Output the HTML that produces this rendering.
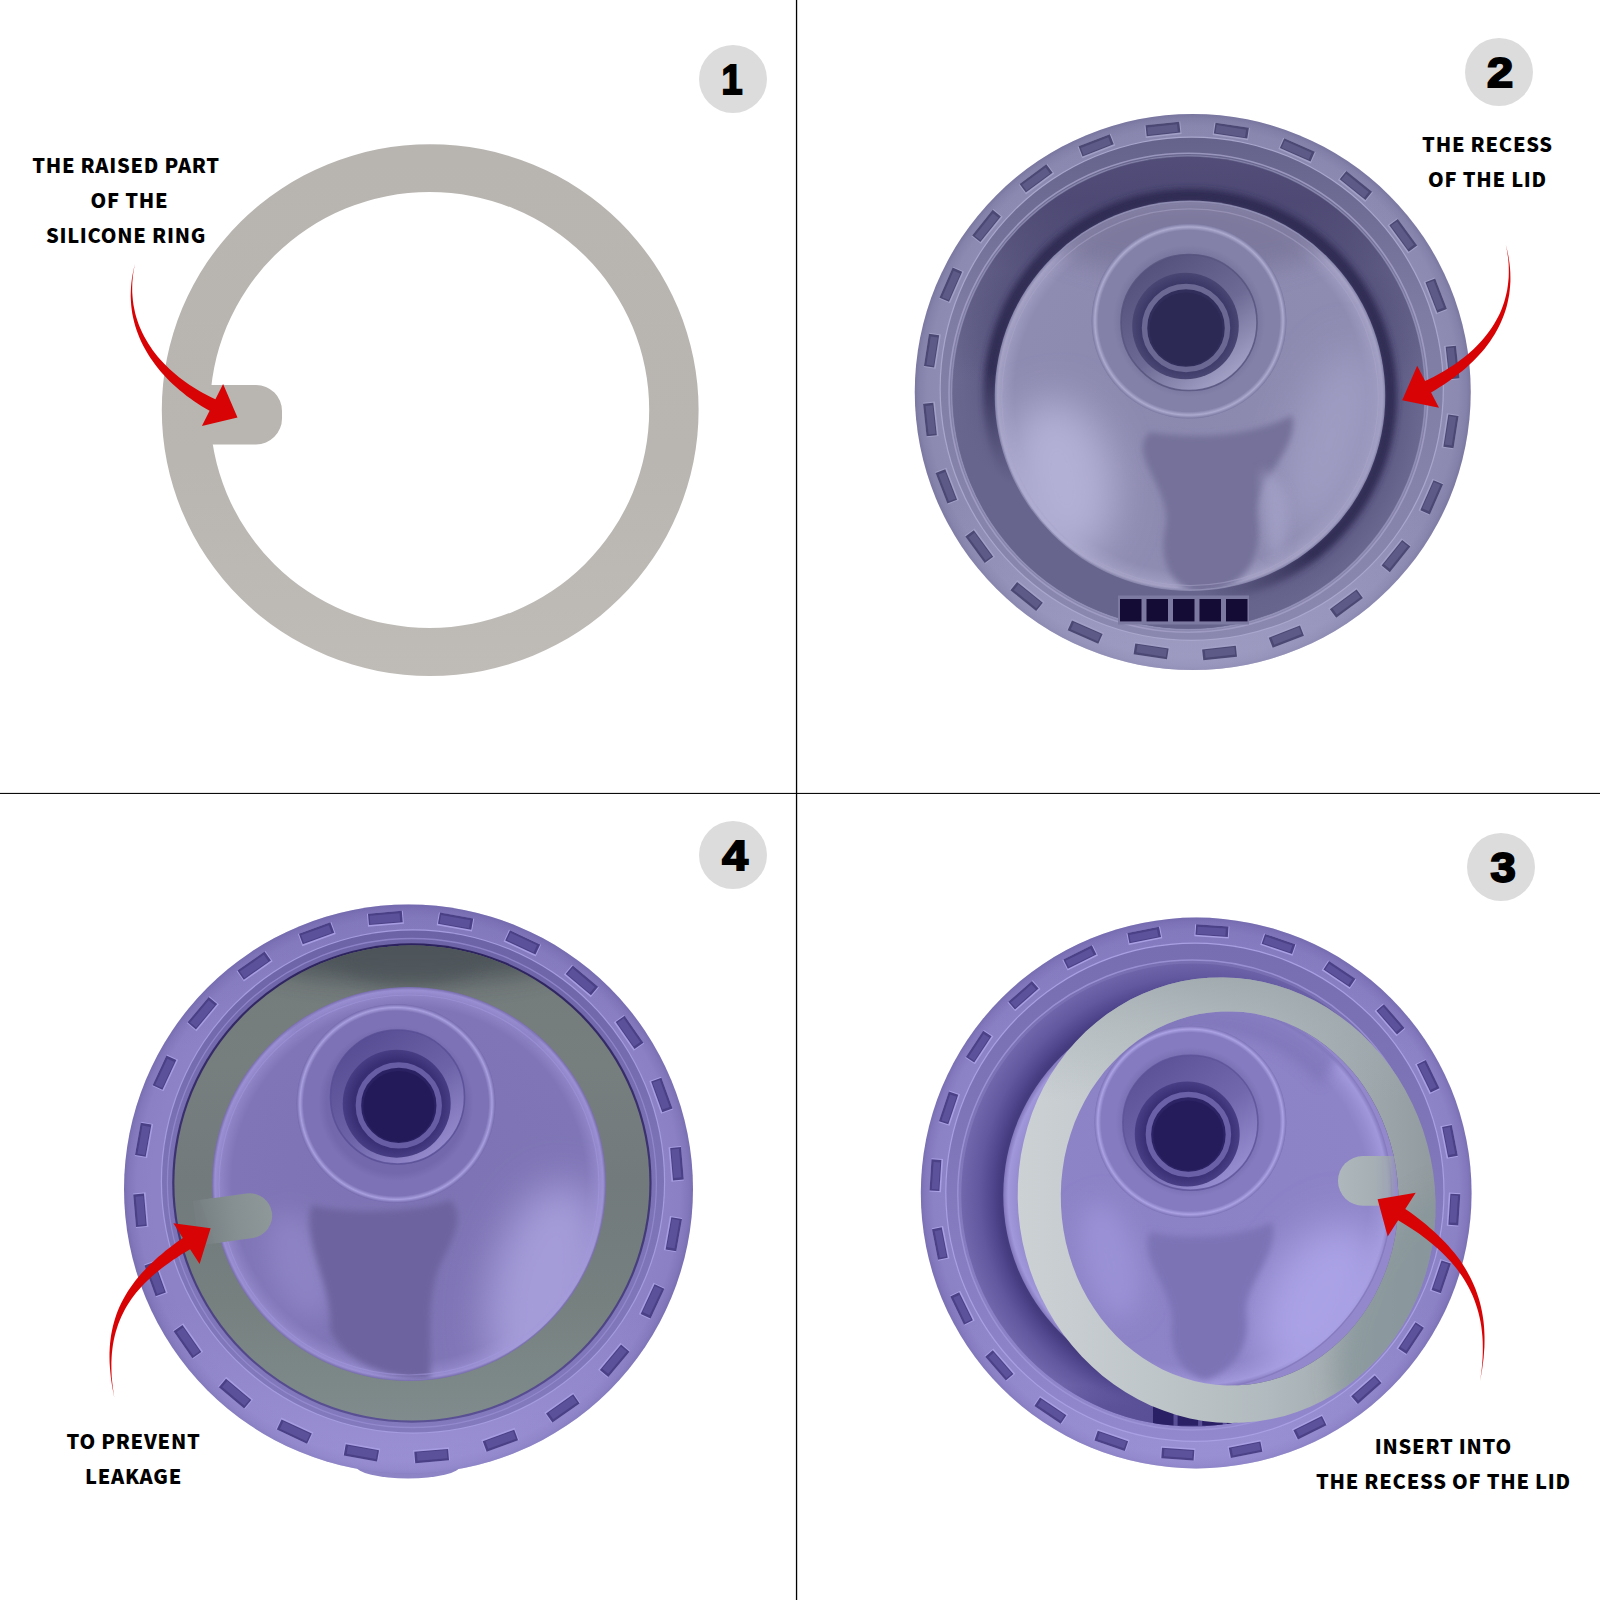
<!DOCTYPE html>
<html lang="en"><head><meta charset="utf-8"><title>Silicone ring installation</title>
<style>html,body{margin:0;padding:0;background:#fff}svg{display:block}</style></head>
<body>
<svg width="1600" height="1600" viewBox="0 0 1600 1600">
<defs>
<linearGradient id="ringg" x1="0" y1="0" x2="0" y2="1"><stop offset="0" stop-color="#b8b4b0"/><stop offset="0.6" stop-color="#b9b5b0"/><stop offset="1" stop-color="#bfbbb7"/></linearGradient>
<filter id="b3" x="-20%" y="-20%" width="140%" height="140%"><feGaussianBlur stdDeviation="3"/></filter>
<filter id="b6" x="-30%" y="-30%" width="160%" height="160%"><feGaussianBlur stdDeviation="6"/></filter>
<filter id="b12" x="-40%" y="-40%" width="180%" height="180%"><feGaussianBlur stdDeviation="12"/></filter>
<filter id="b20" x="-50%" y="-50%" width="200%" height="200%"><feGaussianBlur stdDeviation="20"/></filter>
<radialGradient id="rg1" gradientUnits="userSpaceOnUse" cx="1192.75" cy="392" r="278" fx="1192.75" fy="392"><stop offset="0" stop-color="#8f8cb4"/><stop offset="0.9" stop-color="#8f8cb4"/><stop offset="0.955" stop-color="#8d8ab2"/><stop offset="0.985" stop-color="#8481aa"/><stop offset="1" stop-color="#7a77a1"/></radialGradient>
<linearGradient id="lg2" gradientUnits="userSpaceOnUse" x1="0" y1="114" x2="0" y2="670"><stop offset="0" stop-color="#6f6c98" stop-opacity="0.15"/><stop offset="0.2" stop-color="#6f6c98" stop-opacity="0"/><stop offset="0.7" stop-color="#b4b1d6" stop-opacity="0"/><stop offset="1" stop-color="#b4b1d6" stop-opacity="0.45"/></linearGradient>
<linearGradient id="lg3" gradientUnits="userSpaceOnUse" x1="0" y1="137" x2="0" y2="640"><stop offset="0" stop-color="#65628b"/><stop offset="0.35" stop-color="#7f7ca4"/><stop offset="0.7" stop-color="#8683ab"/><stop offset="1" stop-color="#8b88af"/></linearGradient>
<radialGradient id="rg4" gradientUnits="userSpaceOnUse" cx="1190" cy="395.75" r="240" fx="1190" fy="395.75"><stop offset="0" stop-color="#4f4c76"/><stop offset="0.815" stop-color="#4f4c76"/><stop offset="0.87" stop-color="#5f5c86"/><stop offset="1" stop-color="#6e6b93"/></radialGradient>
<clipPath id="cp5"><ellipse cx="1188.5" cy="392.75" rx="236" ry="236"/></clipPath>
<linearGradient id="lg6" gradientUnits="userSpaceOnUse" x1="0" y1="157" x2="0" y2="380"><stop offset="0" stop-color="#504c77" stop-opacity="0.95"/><stop offset="0.2" stop-color="#4b4772" stop-opacity="0.9"/><stop offset="0.5" stop-color="#433f69" stop-opacity="0.35"/><stop offset="1" stop-color="#2f2b52" stop-opacity="0"/></linearGradient>
<linearGradient id="lg7" gradientUnits="userSpaceOnUse" x1="1250" y1="380" x2="1100" y2="640"><stop offset="0" stop-color="#67648d" stop-opacity="0"/><stop offset="0.4" stop-color="#67648d" stop-opacity="0"/><stop offset="0.7" stop-color="#67648d" stop-opacity="1"/><stop offset="1" stop-color="#67648d" stop-opacity="1"/></linearGradient>
<radialGradient id="rg8" gradientUnits="userSpaceOnUse" cx="1190" cy="395.75" r="195.3" fx="1190" fy="395.75"><stop offset="0" stop-color="#8c89af"/><stop offset="0.9" stop-color="#8f8cb2"/><stop offset="0.955" stop-color="#9b98bd"/><stop offset="0.985" stop-color="#a5a2c6"/><stop offset="1" stop-color="#8683a9"/></radialGradient>
<clipPath id="cp9"><ellipse cx="1190" cy="395.75" rx="193.8" ry="193.8"/></clipPath>
<radialGradient id="rg10" gradientUnits="userSpaceOnUse" cx="1189" cy="321" r="97.5" fx="1189" fy="321"><stop offset="0" stop-color="#7a77a0"/><stop offset="0.7" stop-color="#7a77a0"/><stop offset="0.78" stop-color="#8481a9"/><stop offset="0.93" stop-color="#8481a9"/><stop offset="0.965" stop-color="#acaace"/><stop offset="1" stop-color="#7a77a0"/></radialGradient>
<linearGradient id="lg11" gradientUnits="userSpaceOnUse" x1="1148.2" y1="268.1" x2="1229.8" y2="376.9"><stop offset="0" stop-color="#55527d"/><stop offset="0.55" stop-color="#6d6a95"/><stop offset="1" stop-color="#a3a0c6"/></linearGradient>
<radialGradient id="rg12" gradientUnits="userSpaceOnUse" cx="1185.5" cy="326" r="53.3" fx="1185.5" fy="326"><stop offset="0" stop-color="#3b3766"/><stop offset="0.8" stop-color="#3b3766"/><stop offset="1" stop-color="#4a4674"/></radialGradient>
<radialGradient id="rg13" gradientUnits="userSpaceOnUse" cx="408.5" cy="1189" r="284.5" fx="408.5" fy="1189"><stop offset="0" stop-color="#8c82c5"/><stop offset="0.9" stop-color="#8c82c5"/><stop offset="0.955" stop-color="#8a80c3"/><stop offset="0.985" stop-color="#8277bb"/><stop offset="1" stop-color="#786eb2"/></radialGradient>
<linearGradient id="lg14" gradientUnits="userSpaceOnUse" x1="0" y1="905" x2="0" y2="1474"><stop offset="0" stop-color="#6a60a6" stop-opacity="0.3"/><stop offset="0.25" stop-color="#6a60a6" stop-opacity="0"/><stop offset="0.7" stop-color="#b0a7ea" stop-opacity="0"/><stop offset="1" stop-color="#b0a7ea" stop-opacity="0.4"/></linearGradient>
<linearGradient id="lg15" gradientUnits="userSpaceOnUse" x1="0" y1="930" x2="0" y2="1434"><stop offset="0" stop-color="#6c62a6"/><stop offset="0.4" stop-color="#7a70b4"/><stop offset="1" stop-color="#8379bd"/></linearGradient>
<linearGradient id="lg16" gradientUnits="userSpaceOnUse" x1="0" y1="944" x2="0" y2="1424"><stop offset="0" stop-color="#2c235e"/><stop offset="0.5" stop-color="#3d3472"/><stop offset="1" stop-color="#5a5094"/></linearGradient>
<linearGradient id="lg17" gradientUnits="userSpaceOnUse" x1="0" y1="946" x2="0" y2="1420"><stop offset="0" stop-color="#747b7b"/><stop offset="0.25" stop-color="#777e7e"/><stop offset="0.5" stop-color="#727a7c"/><stop offset="0.75" stop-color="#76807f"/><stop offset="1" stop-color="#7f8b8c"/></linearGradient>
<clipPath id="cp18"><ellipse cx="411.9" cy="1183" rx="237.5" ry="237.5"/></clipPath>
<linearGradient id="lg19" gradientUnits="userSpaceOnUse" x1="200" y1="0" x2="272" y2="0"><stop offset="0" stop-color="#767e81"/><stop offset="0.5" stop-color="#869092"/><stop offset="1" stop-color="#8e9899"/></linearGradient>
<radialGradient id="rg20" gradientUnits="userSpaceOnUse" cx="409" cy="1184" r="197" fx="409" fy="1184"><stop offset="0" stop-color="#7d73b4"/><stop offset="0.9" stop-color="#8076b7"/><stop offset="0.955" stop-color="#8d83c5"/><stop offset="0.985" stop-color="#9a90d3"/><stop offset="1" stop-color="#766cac"/></radialGradient>
<clipPath id="cp21"><ellipse cx="409" cy="1184" rx="195.5" ry="195.5"/></clipPath>
<linearGradient id="lg22" gradientUnits="userSpaceOnUse" x1="200" y1="0" x2="272" y2="0"><stop offset="0" stop-color="#778083"/><stop offset="0.5" stop-color="#869092"/><stop offset="1" stop-color="#8e9899"/></linearGradient>
<radialGradient id="rg23" gradientUnits="userSpaceOnUse" cx="396" cy="1103.5" r="99.5" fx="396" fy="1103.5"><stop offset="0" stop-color="#7268ab"/><stop offset="0.7" stop-color="#7268ab"/><stop offset="0.78" stop-color="#7c72b5"/><stop offset="0.93" stop-color="#7c72b5"/><stop offset="0.965" stop-color="#a89fdf"/><stop offset="1" stop-color="#7268ab"/></radialGradient>
<linearGradient id="lg24" gradientUnits="userSpaceOnUse" x1="357.3" y1="1043.4" x2="437.7" y2="1150.6"><stop offset="0" stop-color="#584e95"/><stop offset="0.55" stop-color="#6d63a8"/><stop offset="1" stop-color="#9389cb"/></linearGradient>
<radialGradient id="rg25" gradientUnits="userSpaceOnUse" cx="396.7" cy="1103.7" r="54" fx="396.7" fy="1103.7"><stop offset="0" stop-color="#382e74"/><stop offset="0.8" stop-color="#382e74"/><stop offset="1" stop-color="#473d84"/></radialGradient>
<radialGradient id="rg26" gradientUnits="userSpaceOnUse" cx="1196.2" cy="1193" r="275.4" fx="1196.2" fy="1193"><stop offset="0" stop-color="#8d83c7"/><stop offset="0.9" stop-color="#8d83c7"/><stop offset="0.955" stop-color="#8b81c5"/><stop offset="0.985" stop-color="#8378bd"/><stop offset="1" stop-color="#796fb3"/></radialGradient>
<linearGradient id="lg27" gradientUnits="userSpaceOnUse" x1="0" y1="917" x2="0" y2="1470"><stop offset="0" stop-color="#6a60a6" stop-opacity="0.28"/><stop offset="0.25" stop-color="#6a60a6" stop-opacity="0"/><stop offset="0.7" stop-color="#b0a7ea" stop-opacity="0"/><stop offset="1" stop-color="#b0a7ea" stop-opacity="0.4"/></linearGradient>
<linearGradient id="lg28" gradientUnits="userSpaceOnUse" x1="0" y1="943" x2="0" y2="1441"><stop offset="0" stop-color="#776db1"/><stop offset="0.4" stop-color="#7f75b9"/><stop offset="1" stop-color="#9288ce"/></linearGradient>
<radialGradient id="rg29" gradientUnits="userSpaceOnUse" cx="1197.75" cy="1195" r="237.5" fx="1197.75" fy="1195"><stop offset="0" stop-color="#443a7e"/><stop offset="0.83" stop-color="#443a7e"/><stop offset="0.87" stop-color="#524890"/><stop offset="0.92" stop-color="#62589f"/><stop offset="1" stop-color="#7268ae"/></radialGradient>
<clipPath id="cp30"><ellipse cx="1192.75" cy="1195" rx="231.5" ry="231.5"/></clipPath>
<linearGradient id="lg31" gradientUnits="userSpaceOnUse" x1="0" y1="1385" x2="0" y2="1428"><stop offset="0" stop-color="#584e96" stop-opacity="0"/><stop offset="0.5" stop-color="#584e96" stop-opacity="0.8"/><stop offset="1" stop-color="#584e96" stop-opacity="1"/></linearGradient>
<radialGradient id="rg32" gradientUnits="userSpaceOnUse" cx="1197.75" cy="1195" r="194.5" fx="1197.75" fy="1195"><stop offset="0" stop-color="#8b81c5"/><stop offset="0.88" stop-color="#8d83c7"/><stop offset="0.93" stop-color="#968cd0"/><stop offset="0.975" stop-color="#a198db"/><stop offset="1" stop-color="#8177ba"/></radialGradient>
<clipPath id="cp33"><ellipse cx="1197.75" cy="1195" rx="193" ry="193"/></clipPath>
<radialGradient id="rg34" gradientUnits="userSpaceOnUse" cx="1190.4" cy="1121.8" r="96" fx="1190.4" fy="1121.8"><stop offset="0" stop-color="#7a70b4"/><stop offset="0.7" stop-color="#7a70b4"/><stop offset="0.78" stop-color="#857bc0"/><stop offset="0.93" stop-color="#857bc0"/><stop offset="0.965" stop-color="#aba2e4"/><stop offset="1" stop-color="#7a70b4"/></radialGradient>
<linearGradient id="lg35" gradientUnits="userSpaceOnUse" x1="1149.9" y1="1068.7" x2="1230.9" y2="1176.7"><stop offset="0" stop-color="#5d5399"/><stop offset="0.55" stop-color="#7268ad"/><stop offset="1" stop-color="#968cd0"/></linearGradient>
<radialGradient id="rg36" gradientUnits="userSpaceOnUse" cx="1187.2" cy="1134" r="52.5" fx="1187.2" fy="1134"><stop offset="0" stop-color="#392f75"/><stop offset="0.8" stop-color="#392f75"/><stop offset="1" stop-color="#483e85"/></radialGradient>
<linearGradient id="lg37" gradientUnits="userSpaceOnUse" x1="1018" y1="0" x2="1433" y2="0"><stop offset="0" stop-color="#ccd1d4"/><stop offset="0.3" stop-color="#c0c7ca"/><stop offset="0.6" stop-color="#b1babe"/><stop offset="0.85" stop-color="#9ea7ab"/><stop offset="1" stop-color="#929b9f"/></linearGradient>
<clipPath id="cp38"><path clip-rule="evenodd" d="M1430.7,1158.4 L1433.2,1172.8 L1434.8,1187.3 L1435.5,1201.9 L1435.3,1216.5 L1434.2,1231.0 L1432.3,1245.4 L1429.4,1259.5 L1425.7,1273.4 L1421.2,1287.1 L1415.8,1300.3 L1409.6,1313.1 L1402.6,1325.4 L1394.8,1337.2 L1386.4,1348.4 L1377.2,1359.0 L1367.4,1368.8 L1357.0,1378.0 L1346.1,1386.4 L1334.6,1394.0 L1322.7,1400.8 L1310.4,1406.7 L1297.7,1411.7 L1284.7,1415.9 L1271.4,1419.1 L1258.0,1421.3 L1244.4,1422.6 L1230.7,1423.0 L1217.1,1422.4 L1203.4,1420.9 L1189.9,1418.4 L1176.5,1415.0 L1163.4,1410.6 L1150.5,1405.4 L1137.9,1399.3 L1125.7,1392.3 L1114.0,1384.5 L1102.7,1375.9 L1092.0,1366.6 L1081.8,1356.5 L1072.3,1345.8 L1063.4,1334.5 L1055.2,1322.6 L1047.8,1310.1 L1041.1,1297.2 L1035.2,1283.9 L1030.1,1270.2 L1025.9,1256.2 L1022.5,1242.0 L1020.0,1227.6 L1018.4,1213.1 L1017.7,1198.5 L1017.9,1183.9 L1019.0,1169.4 L1020.9,1155.0 L1023.8,1140.9 L1027.5,1127.0 L1032.0,1113.3 L1037.4,1100.1 L1043.6,1087.3 L1050.6,1075.0 L1058.4,1063.2 L1066.8,1052.0 L1076.0,1041.4 L1085.8,1031.6 L1096.2,1022.4 L1107.1,1014.0 L1118.6,1006.4 L1130.5,999.6 L1142.8,993.7 L1155.5,988.7 L1168.5,984.5 L1181.8,981.3 L1195.2,979.1 L1208.8,977.8 L1222.5,977.4 L1236.1,978.0 L1249.8,979.5 L1263.3,982.0 L1276.7,985.4 L1289.8,989.8 L1302.7,995.0 L1315.3,1001.1 L1327.5,1008.1 L1339.2,1015.9 L1350.5,1024.5 L1361.2,1033.8 L1371.4,1043.9 L1380.9,1054.6 L1389.8,1065.9 L1398.0,1077.8 L1405.4,1090.3 L1412.1,1103.2 L1418.0,1116.5 L1423.1,1130.2 L1427.3,1144.2Z M1398.2,1190.8 L1398.4,1203.1 L1397.9,1215.3 L1396.6,1227.4 L1394.7,1239.5 L1392.0,1251.3 L1388.6,1262.9 L1384.6,1274.3 L1379.8,1285.3 L1374.5,1295.9 L1368.5,1306.2 L1361.9,1315.9 L1354.8,1325.2 L1347.1,1333.9 L1338.9,1342.1 L1330.3,1349.6 L1321.2,1356.5 L1311.7,1362.7 L1301.9,1368.2 L1291.7,1373.0 L1281.3,1377.0 L1270.7,1380.2 L1259.9,1382.7 L1249.0,1384.4 L1238.0,1385.3 L1226.9,1385.4 L1215.9,1384.7 L1204.9,1383.2 L1194.1,1380.9 L1183.3,1377.8 L1172.8,1374.0 L1162.5,1369.4 L1152.6,1364.1 L1142.9,1358.0 L1133.6,1351.3 L1124.7,1343.9 L1116.3,1335.9 L1108.3,1327.3 L1100.9,1318.2 L1094.1,1308.5 L1087.8,1298.4 L1082.1,1287.9 L1077.0,1276.9 L1072.6,1265.6 L1068.9,1254.1 L1065.8,1242.3 L1063.5,1230.3 L1061.9,1218.2 L1061.0,1206.0 L1060.8,1193.7 L1061.3,1181.5 L1062.6,1169.4 L1064.5,1157.3 L1067.2,1145.5 L1070.6,1133.9 L1074.6,1122.5 L1079.4,1111.5 L1084.7,1100.9 L1090.7,1090.6 L1097.3,1080.9 L1104.4,1071.6 L1112.1,1062.9 L1120.3,1054.7 L1128.9,1047.2 L1138.0,1040.3 L1147.5,1034.1 L1157.3,1028.6 L1167.5,1023.8 L1177.9,1019.8 L1188.5,1016.6 L1199.3,1014.1 L1210.2,1012.4 L1221.2,1011.5 L1232.3,1011.4 L1243.3,1012.1 L1254.3,1013.6 L1265.1,1015.9 L1275.9,1019.0 L1286.4,1022.8 L1296.7,1027.4 L1306.6,1032.7 L1316.3,1038.8 L1325.6,1045.5 L1334.5,1052.9 L1342.9,1060.9 L1350.9,1069.5 L1358.3,1078.6 L1365.1,1088.3 L1371.4,1098.4 L1377.1,1108.9 L1382.2,1119.9 L1386.6,1131.2 L1390.3,1142.7 L1393.4,1154.5 L1395.7,1166.5 L1397.3,1178.6Z"/></clipPath>
<linearGradient id="lg39" gradientUnits="userSpaceOnUse" x1="0" y1="976" x2="0" y2="1100"><stop offset="0" stop-color="#98a2a7" stop-opacity="0.7"/><stop offset="0.4" stop-color="#a0aaaf" stop-opacity="0.4"/><stop offset="1" stop-color="#a3adb2" stop-opacity="0"/></linearGradient>
<linearGradient id="lg40" gradientUnits="userSpaceOnUse" x1="1338" y1="0" x2="1398" y2="0"><stop offset="0" stop-color="#aeb8bc" stop-opacity="1"/><stop offset="0.6" stop-color="#a6b0b4" stop-opacity="1"/><stop offset="0.85" stop-color="#9fa8ac" stop-opacity="0.8"/><stop offset="1" stop-color="#9ba4a8" stop-opacity="0"/></linearGradient>
</defs>
<rect width="1600" height="1600" fill="#ffffff"/>
<g id="p1">
<path fill="url(#ringg)" fill-rule="evenodd" d="M161.8,410.1 a268.4,265.9 0 1,0 536.8,0 a268.4,265.9 0 1,0 -536.8,0Z M210,410 a219.6,218 0 1,0 439.2,0 a219.6,218 0 1,0 -439.2,0Z"/>
<path fill="#b9b5b0" d="M200,385 H256 a26,26 0 0 1 26,26 v7.4 a26,26 0 0 1 -26,26 H200Z"/>
<path d="M135.0,264.0 L133.8,268.8 L132.8,273.5 L132.0,278.1 L131.4,282.7 L131.0,287.3 L130.8,291.9 L130.7,296.3 L130.9,300.8 L131.2,305.2 L131.7,309.5 L132.3,313.8 L133.2,318.1 L134.2,322.3 L135.4,326.4 L136.7,330.5 L138.2,334.5 L139.8,338.5 L141.6,342.4 L143.5,346.3 L145.6,350.1 L147.8,353.8 L150.1,357.5 L152.6,361.1 L155.1,364.6 L157.8,368.1 L160.6,371.5 L163.6,374.8 L166.6,378.1 L169.7,381.2 L172.9,384.3 L176.3,387.3 L179.7,390.3 L183.2,393.1 L186.7,395.9 L190.4,398.6 L194.1,401.2 L197.9,403.7 L201.7,406.2 L205.6,408.5 L209.6,410.8 L201.9,425.9 L237.5,417.6 L223.1,384.1 L215.4,399.2 L211.6,397.4 L207.7,395.5 L203.9,393.5 L200.2,391.5 L196.5,389.3 L192.9,387.1 L189.3,384.7 L185.8,382.3 L182.4,379.8 L179.0,377.3 L175.8,374.6 L172.6,371.8 L169.5,369.0 L166.5,366.1 L163.5,363.1 L160.7,360.1 L158.0,356.9 L155.4,353.7 L152.9,350.4 L150.6,347.0 L148.3,343.6 L146.2,340.0 L144.2,336.4 L142.3,332.7 L140.6,329.0 L139.0,325.2 L137.6,321.2 L136.3,317.3 L135.2,313.2 L134.3,309.1 L133.5,304.9 L132.9,300.6 L132.5,296.3 L132.2,291.9 L132.2,287.4 L132.3,282.8 L132.7,278.2 L133.2,273.5 L134.0,268.8 L135.0,264.0Z" fill="#d80304"/>
<text x="126.0" y="173.0" text-anchor="middle" font-family="'Noto Sans CJK SC','Liberation Sans',sans-serif" font-weight="900" font-size="20" letter-spacing="0.75" fill="#000">THE RAISED PART</text>
<text x="129.5" y="208.0" text-anchor="middle" font-family="'Noto Sans CJK SC','Liberation Sans',sans-serif" font-weight="900" font-size="20" letter-spacing="0.75" fill="#000">OF THE</text>
<text x="126.0" y="243.0" text-anchor="middle" font-family="'Noto Sans CJK SC','Liberation Sans',sans-serif" font-weight="900" font-size="20" letter-spacing="0.75" fill="#000">SILICONE RING</text>
<circle cx="733" cy="79" r="34" fill="#dcdcdc"/><text transform="translate(732,94.2) scale(0.9,1)" text-anchor="middle" font-family="'Liberation Sans',sans-serif" font-weight="700" font-size="42" stroke="#000" stroke-width="2" fill="#000">1</text>
</g>
<rect x="795.9" y="0" width="1.3" height="1600" fill="#000"/>
<rect x="0" y="792.9" width="1600" height="1.05" fill="#000"/>
<g id="p2">
<circle cx="1192.75" cy="392" r="278" fill="url(#rg1)" />
<circle cx="1192.75" cy="392" r="278" fill="url(#lg2)" />
<g transform="translate(1162.9,129.0) rotate(-6.2)"><rect x="-17.9" y="-5.5" width="35.9" height="12.5" fill="#a3a0c7"/><rect x="-16.9" y="-5.5" width="33.9" height="10.9" fill="#4b4874"/><rect x="-15.4" y="-3.3" width="29.9" height="7.7" fill="#5d5a87"/></g>
<g transform="translate(1231.4,130.6) rotate(8.8)"><rect x="-17.9" y="-5.4" width="35.8" height="12.5" fill="#a3a0c7"/><rect x="-16.9" y="-5.4" width="33.8" height="10.9" fill="#4b4874"/><rect x="-15.4" y="-3.2" width="29.8" height="7.7" fill="#5d5a87"/></g>
<g transform="translate(1297.3,149.9) rotate(23.9)"><rect x="-17.7" y="-5.4" width="35.5" height="12.3" fill="#a3a0c7"/><rect x="-16.7" y="-5.4" width="33.5" height="10.7" fill="#4b4874"/><rect x="-15.2" y="-3.2" width="29.5" height="7.5" fill="#5d5a87"/></g>
<g transform="translate(1355.9,185.6) rotate(38.9)"><rect x="-17.6" y="-5.3" width="35.1" height="12.2" fill="#a3a0c7"/><rect x="-16.6" y="-5.3" width="33.1" height="10.6" fill="#4b4874"/><rect x="-15.1" y="-3.1" width="29.1" height="7.4" fill="#5d5a87"/></g>
<g transform="translate(1403.3,235.4) rotate(53.9)"><rect x="-17.5" y="-5.2" width="34.9" height="12.1" fill="#a3a0c7"/><rect x="-16.5" y="-5.2" width="32.9" height="10.5" fill="#4b4874"/><rect x="-15.0" y="-3.0" width="28.9" height="7.3" fill="#5d5a87"/></g>
<g transform="translate(1436.2,295.7) rotate(68.9)"><rect x="-17.4" y="-5.2" width="34.7" height="12.0" fill="#a3a0c7"/><rect x="-16.4" y="-5.2" width="32.7" height="10.4" fill="#4b4874"/><rect x="-14.9" y="-3.0" width="28.7" height="7.2" fill="#5d5a87"/></g>
<g transform="translate(1452.5,362.5) rotate(83.8)"><rect x="-17.3" y="-5.2" width="34.6" height="11.9" fill="#a3a0c7"/><rect x="-16.3" y="-5.2" width="32.6" height="10.3" fill="#4b4874"/><rect x="-14.8" y="-3.0" width="28.6" height="7.1" fill="#5d5a87"/></g>
<g transform="translate(1450.9,431.3) rotate(98.8)"><rect x="-17.3" y="-5.2" width="34.7" height="11.9" fill="#a3a0c7"/><rect x="-16.3" y="-5.2" width="32.7" height="10.3" fill="#4b4874"/><rect x="-14.8" y="-3.0" width="28.7" height="7.1" fill="#5d5a87"/></g>
<g transform="translate(1431.7,497.3) rotate(113.7)"><rect x="-17.4" y="-5.2" width="34.8" height="12.0" fill="#a3a0c7"/><rect x="-16.4" y="-5.2" width="32.8" height="10.4" fill="#4b4874"/><rect x="-14.9" y="-3.0" width="28.8" height="7.2" fill="#5d5a87"/></g>
<g transform="translate(1396.0,556.1) rotate(128.7)"><rect x="-17.5" y="-5.2" width="34.9" height="12.1" fill="#a3a0c7"/><rect x="-16.5" y="-5.2" width="32.9" height="10.5" fill="#4b4874"/><rect x="-15.0" y="-3.0" width="28.9" height="7.3" fill="#5d5a87"/></g>
<g transform="translate(1346.4,603.6) rotate(143.7)"><rect x="-17.6" y="-5.3" width="35.2" height="12.2" fill="#a3a0c7"/><rect x="-16.6" y="-5.3" width="33.2" height="10.6" fill="#4b4874"/><rect x="-15.1" y="-3.1" width="29.2" height="7.4" fill="#5d5a87"/></g>
<g transform="translate(1286.3,636.7) rotate(158.7)"><rect x="-17.8" y="-5.4" width="35.5" height="12.4" fill="#a3a0c7"/><rect x="-16.8" y="-5.4" width="33.5" height="10.8" fill="#4b4874"/><rect x="-15.3" y="-3.2" width="29.5" height="7.6" fill="#5d5a87"/></g>
<g transform="translate(1219.6,653.0) rotate(173.8)"><rect x="-17.9" y="-5.5" width="35.9" height="12.5" fill="#a3a0c7"/><rect x="-16.9" y="-5.5" width="33.9" height="10.9" fill="#4b4874"/><rect x="-15.4" y="-3.3" width="29.9" height="7.7" fill="#5d5a87"/></g>
<g transform="translate(1151.1,651.4) rotate(-171.2)"><rect x="-17.9" y="-5.4" width="35.8" height="12.5" fill="#a3a0c7"/><rect x="-16.9" y="-5.4" width="33.8" height="10.9" fill="#4b4874"/><rect x="-15.4" y="-3.2" width="29.8" height="7.7" fill="#5d5a87"/></g>
<g transform="translate(1085.2,632.1) rotate(-156.1)"><rect x="-17.7" y="-5.4" width="35.5" height="12.3" fill="#a3a0c7"/><rect x="-16.7" y="-5.4" width="33.5" height="10.7" fill="#4b4874"/><rect x="-15.2" y="-3.2" width="29.5" height="7.5" fill="#5d5a87"/></g>
<g transform="translate(1026.6,596.4) rotate(-141.1)"><rect x="-17.6" y="-5.3" width="35.1" height="12.2" fill="#a3a0c7"/><rect x="-16.6" y="-5.3" width="33.1" height="10.6" fill="#4b4874"/><rect x="-15.1" y="-3.1" width="29.1" height="7.4" fill="#5d5a87"/></g>
<g transform="translate(979.2,546.6) rotate(-126.1)"><rect x="-17.5" y="-5.2" width="34.9" height="12.1" fill="#a3a0c7"/><rect x="-16.5" y="-5.2" width="32.9" height="10.5" fill="#4b4874"/><rect x="-15.0" y="-3.0" width="28.9" height="7.3" fill="#5d5a87"/></g>
<g transform="translate(946.3,486.3) rotate(-111.1)"><rect x="-17.4" y="-5.2" width="34.7" height="12.0" fill="#a3a0c7"/><rect x="-16.4" y="-5.2" width="32.7" height="10.4" fill="#4b4874"/><rect x="-14.9" y="-3.0" width="28.7" height="7.2" fill="#5d5a87"/></g>
<g transform="translate(930.0,419.5) rotate(-96.2)"><rect x="-17.3" y="-5.2" width="34.6" height="11.9" fill="#a3a0c7"/><rect x="-16.3" y="-5.2" width="32.6" height="10.3" fill="#4b4874"/><rect x="-14.8" y="-3.0" width="28.6" height="7.1" fill="#5d5a87"/></g>
<g transform="translate(931.6,350.7) rotate(-81.2)"><rect x="-17.3" y="-5.2" width="34.7" height="11.9" fill="#a3a0c7"/><rect x="-16.3" y="-5.2" width="32.7" height="10.3" fill="#4b4874"/><rect x="-14.8" y="-3.0" width="28.7" height="7.1" fill="#5d5a87"/></g>
<g transform="translate(950.8,284.7) rotate(-66.3)"><rect x="-17.4" y="-5.2" width="34.8" height="12.0" fill="#a3a0c7"/><rect x="-16.4" y="-5.2" width="32.8" height="10.4" fill="#4b4874"/><rect x="-14.9" y="-3.0" width="28.8" height="7.2" fill="#5d5a87"/></g>
<g transform="translate(986.5,225.9) rotate(-51.3)"><rect x="-17.5" y="-5.2" width="34.9" height="12.1" fill="#a3a0c7"/><rect x="-16.5" y="-5.2" width="32.9" height="10.5" fill="#4b4874"/><rect x="-15.0" y="-3.0" width="28.9" height="7.3" fill="#5d5a87"/></g>
<g transform="translate(1036.1,178.4) rotate(-36.3)"><rect x="-17.6" y="-5.3" width="35.2" height="12.2" fill="#a3a0c7"/><rect x="-16.6" y="-5.3" width="33.2" height="10.6" fill="#4b4874"/><rect x="-15.1" y="-3.1" width="29.2" height="7.4" fill="#5d5a87"/></g>
<g transform="translate(1096.2,145.3) rotate(-21.3)"><rect x="-17.8" y="-5.4" width="35.5" height="12.4" fill="#a3a0c7"/><rect x="-16.8" y="-5.4" width="33.5" height="10.8" fill="#4b4874"/><rect x="-15.3" y="-3.2" width="29.5" height="7.6" fill="#5d5a87"/></g>
<circle cx="1191.75" cy="388.75" r="252.2" fill="#aaa7cd" />
<circle cx="1191.75" cy="388.75" r="251" fill="url(#lg3)" />
<circle cx="1188.5" cy="392.75" r="239.5" fill="none" stroke="#a29fc5" stroke-width="1.6" opacity="0.85"/>
<circle cx="1188.5" cy="392.75" r="237" fill="none" stroke="#9a97bd" stroke-width="1.2" opacity="0.6"/>
<circle cx="1188.5" cy="392.75" r="236" fill="url(#rg4)" />
<g clip-path="url(#cp5)">
<rect x="940" y="150" width="500" height="260" fill="url(#lg6)"/>
<path d="M1395,250 A215,215 0 0 1 1330,590 L1420,600 L1450,392 L1420,230Z" fill="#55527b" opacity="0.6" filter="url(#b6)"/>
<circle cx="1190" cy="395.75" r="200.3" fill="none" stroke="#2a264e" stroke-width="13" filter="url(#b3)" opacity="0.85"/>
<rect x="940" y="150" width="500" height="500" fill="url(#lg7)"/>
</g>
<rect x="1118" y="595.5" width="131" height="29" fill="#7d7aa2"/>
<rect x="1120.0" y="599" width="21.5" height="22.4" fill="#140c35"/>
<rect x="1146.5" y="599" width="21.5" height="22.4" fill="#140c35"/>
<rect x="1173.0" y="599" width="21.5" height="22.4" fill="#140c35"/>
<rect x="1199.5" y="599" width="21.5" height="22.4" fill="#140c35"/>
<rect x="1226.0" y="599" width="21.5" height="22.4" fill="#140c35"/>
<circle cx="1190" cy="395.75" r="195.3" fill="url(#rg8)" />
<g clip-path="url(#cp9)">
<ellipse cx="1190" cy="230" rx="150" ry="45" fill="#787599" filter="url(#b12)" opacity="0.8"/>
<ellipse cx="1062" cy="478" rx="52" ry="80" fill="#b3b0d6" filter="url(#b20)" transform="rotate(-12 1062 478)"/>
<ellipse cx="1330" cy="440" rx="40" ry="95" fill="#9f9cc2" filter="url(#b20)" transform="rotate(18 1330 440)"/>
<path d="M1150,432 C1125,455 1175,490 1165,530 C1158,565 1175,588 1200,594 C1245,588 1262,560 1258,520 C1252,478 1300,452 1292,415 C1255,436 1195,440 1150,432Z" fill="#74719a" filter="url(#b3)"/>
<path d="M1262,470 C1290,480 1300,520 1275,560 C1265,540 1262,500 1262,470Z" fill="#a3a0c6" filter="url(#b6)" opacity="0.8"/>
</g>
<circle cx="1190" cy="397.25" r="188.3" fill="none" stroke="#a9a6ca" stroke-width="1.2" opacity="0.5"/>
<circle cx="1189" cy="321" r="97.5" fill="url(#rg10)" />
<circle cx="1189" cy="322.5" r="68" fill="url(#lg11)" />
<circle cx="1189" cy="322.5" r="68" fill="none" stroke="#55527d" stroke-width="1.6" opacity="0.8"/>
<circle cx="1185.5" cy="326" r="53.3" fill="url(#rg12)" />
<circle cx="1186" cy="328" r="41.5" fill="#322e5b" stroke="#6b6894" stroke-width="5.5"/>
<circle cx="1186" cy="329" r="36.5" fill="#2d2955" />
<path d="M1505.7,244.2 L1506.7,249.1 L1507.5,254.0 L1508.2,258.7 L1508.6,263.4 L1508.8,268.0 L1508.8,272.6 L1508.7,277.0 L1508.3,281.4 L1507.8,285.7 L1507.2,289.9 L1506.3,294.0 L1505.3,298.0 L1504.2,302.0 L1502.8,305.9 L1501.4,309.7 L1499.8,313.4 L1498.0,317.0 L1496.1,320.6 L1494.1,324.1 L1491.9,327.5 L1489.6,330.8 L1487.2,334.1 L1484.6,337.3 L1481.9,340.4 L1479.1,343.5 L1476.2,346.4 L1473.2,349.4 L1470.1,352.2 L1466.9,355.0 L1463.5,357.7 L1460.1,360.3 L1456.6,362.9 L1452.9,365.4 L1449.2,367.8 L1445.4,370.2 L1441.5,372.5 L1437.5,374.7 L1433.5,376.9 L1429.3,379.0 L1425.1,381.0 L1417.2,365.7 L1402.2,400.2 L1439.0,407.7 L1431.1,392.4 L1435.3,389.9 L1439.5,387.3 L1443.6,384.7 L1447.6,382.1 L1451.5,379.3 L1455.3,376.5 L1459.0,373.6 L1462.6,370.7 L1466.1,367.7 L1469.5,364.6 L1472.8,361.5 L1476.0,358.3 L1479.0,355.1 L1482.0,351.7 L1484.8,348.4 L1487.4,344.9 L1490.0,341.4 L1492.4,337.8 L1494.7,334.2 L1496.8,330.5 L1498.8,326.7 L1500.6,322.9 L1502.3,319.0 L1503.9,315.1 L1505.3,311.1 L1506.5,307.0 L1507.5,302.9 L1508.4,298.7 L1509.2,294.5 L1509.7,290.2 L1510.1,285.9 L1510.4,281.5 L1510.4,277.0 L1510.3,272.5 L1510.0,268.0 L1509.5,263.3 L1508.8,258.6 L1508.0,253.9 L1506.9,249.1 L1505.7,244.2Z" fill="#d80304"/>
<text x="1487.5" y="151.7" text-anchor="middle" font-family="'Noto Sans CJK SC','Liberation Sans',sans-serif" font-weight="900" font-size="20" letter-spacing="0.75" fill="#000">THE RECESS</text>
<text x="1487.5" y="186.7" text-anchor="middle" font-family="'Noto Sans CJK SC','Liberation Sans',sans-serif" font-weight="900" font-size="20" letter-spacing="0.75" fill="#000">OF THE LID</text>
<circle cx="1499" cy="72" r="34" fill="#dcdcdc"/><text transform="translate(1500,87.2) scale(1.12,1)" text-anchor="middle" font-family="'Liberation Sans',sans-serif" font-weight="700" font-size="42" stroke="#000" stroke-width="2" fill="#000">2</text>
</g>
<g id="p4">
<ellipse cx="408" cy="1466" rx="52" ry="12.5" fill="#8d84c6"/>
<circle cx="408.5" cy="1189" r="284.5" fill="url(#rg13)" />
<circle cx="408.5" cy="1189" r="284.5" fill="url(#lg14)" />
<g transform="translate(385.3,918.0) rotate(-4.9)"><rect x="-17.9" y="-5.7" width="35.9" height="13.0" fill="#a79de2"/><rect x="-16.9" y="-5.7" width="33.9" height="11.4" fill="#4a4086"/><rect x="-15.4" y="-3.5" width="29.9" height="8.2" fill="#5b519a"/></g>
<g transform="translate(455.6,921.2) rotate(10.1)"><rect x="-17.9" y="-5.7" width="35.8" height="13.0" fill="#a79de2"/><rect x="-16.9" y="-5.7" width="33.8" height="11.4" fill="#4a4086"/><rect x="-15.4" y="-3.5" width="29.8" height="8.2" fill="#5b519a"/></g>
<g transform="translate(522.7,942.4) rotate(25.1)"><rect x="-17.7" y="-5.6" width="35.4" height="12.8" fill="#a79de2"/><rect x="-16.7" y="-5.6" width="33.4" height="11.2" fill="#4a4086"/><rect x="-15.2" y="-3.4" width="29.4" height="8.0" fill="#5b519a"/></g>
<g transform="translate(582.0,980.4) rotate(40.1)"><rect x="-17.6" y="-5.5" width="35.1" height="12.7" fill="#a79de2"/><rect x="-16.6" y="-5.5" width="33.1" height="11.1" fill="#4a4086"/><rect x="-15.1" y="-3.3" width="29.1" height="7.9" fill="#5b519a"/></g>
<g transform="translate(629.5,1032.4) rotate(55.1)"><rect x="-17.4" y="-5.5" width="34.9" height="12.5" fill="#a79de2"/><rect x="-16.4" y="-5.5" width="32.9" height="10.9" fill="#4a4086"/><rect x="-14.9" y="-3.3" width="28.9" height="7.7" fill="#5b519a"/></g>
<g transform="translate(661.9,1095.0) rotate(70.1)"><rect x="-17.4" y="-5.4" width="34.7" height="12.5" fill="#a79de2"/><rect x="-16.4" y="-5.4" width="32.7" height="10.9" fill="#4a4086"/><rect x="-14.9" y="-3.2" width="28.7" height="7.7" fill="#5b519a"/></g>
<g transform="translate(677.0,1163.8) rotate(85.1)"><rect x="-17.3" y="-5.4" width="34.6" height="12.4" fill="#a79de2"/><rect x="-16.3" y="-5.4" width="32.6" height="10.8" fill="#4a4086"/><rect x="-14.8" y="-3.2" width="28.6" height="7.6" fill="#5b519a"/></g>
<g transform="translate(673.8,1234.2) rotate(100.1)"><rect x="-17.3" y="-5.4" width="34.7" height="12.4" fill="#a79de2"/><rect x="-16.3" y="-5.4" width="32.7" height="10.8" fill="#4a4086"/><rect x="-14.8" y="-3.2" width="28.7" height="7.6" fill="#5b519a"/></g>
<g transform="translate(652.6,1301.4) rotate(115.0)"><rect x="-17.4" y="-5.4" width="34.8" height="12.5" fill="#a79de2"/><rect x="-16.4" y="-5.4" width="32.8" height="10.9" fill="#4a4086"/><rect x="-14.9" y="-3.2" width="28.8" height="7.7" fill="#5b519a"/></g>
<g transform="translate(614.7,1360.8) rotate(130.0)"><rect x="-17.5" y="-5.5" width="35.0" height="12.6" fill="#a79de2"/><rect x="-16.5" y="-5.5" width="33.0" height="11.0" fill="#4a4086"/><rect x="-15.0" y="-3.3" width="29.0" height="7.8" fill="#5b519a"/></g>
<g transform="translate(562.8,1408.4) rotate(145.0)"><rect x="-17.6" y="-5.6" width="35.2" height="12.7" fill="#a79de2"/><rect x="-16.6" y="-5.6" width="33.2" height="11.1" fill="#4a4086"/><rect x="-15.1" y="-3.4" width="29.2" height="7.9" fill="#5b519a"/></g>
<g transform="translate(500.4,1440.8) rotate(160.0)"><rect x="-17.8" y="-5.6" width="35.5" height="12.9" fill="#a79de2"/><rect x="-16.8" y="-5.6" width="33.5" height="11.3" fill="#4a4086"/><rect x="-15.3" y="-3.4" width="29.5" height="8.1" fill="#5b519a"/></g>
<g transform="translate(431.7,1456.0) rotate(175.1)"><rect x="-17.9" y="-5.7" width="35.9" height="13.0" fill="#a79de2"/><rect x="-16.9" y="-5.7" width="33.9" height="11.4" fill="#4a4086"/><rect x="-15.4" y="-3.5" width="29.9" height="8.2" fill="#5b519a"/></g>
<g transform="translate(361.4,1452.8) rotate(-169.9)"><rect x="-17.9" y="-5.7" width="35.8" height="13.0" fill="#a79de2"/><rect x="-16.9" y="-5.7" width="33.8" height="11.4" fill="#4a4086"/><rect x="-15.4" y="-3.5" width="29.8" height="8.2" fill="#5b519a"/></g>
<g transform="translate(294.3,1431.6) rotate(-154.9)"><rect x="-17.7" y="-5.6" width="35.4" height="12.8" fill="#a79de2"/><rect x="-16.7" y="-5.6" width="33.4" height="11.2" fill="#4a4086"/><rect x="-15.2" y="-3.4" width="29.4" height="8.0" fill="#5b519a"/></g>
<g transform="translate(235.0,1393.6) rotate(-139.9)"><rect x="-17.6" y="-5.5" width="35.1" height="12.7" fill="#a79de2"/><rect x="-16.6" y="-5.5" width="33.1" height="11.1" fill="#4a4086"/><rect x="-15.1" y="-3.3" width="29.1" height="7.9" fill="#5b519a"/></g>
<g transform="translate(187.5,1341.6) rotate(-124.9)"><rect x="-17.4" y="-5.5" width="34.9" height="12.5" fill="#a79de2"/><rect x="-16.4" y="-5.5" width="32.9" height="10.9" fill="#4a4086"/><rect x="-14.9" y="-3.3" width="28.9" height="7.7" fill="#5b519a"/></g>
<g transform="translate(155.1,1279.0) rotate(-109.9)"><rect x="-17.4" y="-5.4" width="34.7" height="12.5" fill="#a79de2"/><rect x="-16.4" y="-5.4" width="32.7" height="10.9" fill="#4a4086"/><rect x="-14.9" y="-3.2" width="28.7" height="7.7" fill="#5b519a"/></g>
<g transform="translate(140.0,1210.2) rotate(-94.9)"><rect x="-17.3" y="-5.4" width="34.6" height="12.4" fill="#a79de2"/><rect x="-16.3" y="-5.4" width="32.6" height="10.8" fill="#4a4086"/><rect x="-14.8" y="-3.2" width="28.6" height="7.6" fill="#5b519a"/></g>
<g transform="translate(143.2,1139.8) rotate(-79.9)"><rect x="-17.3" y="-5.4" width="34.7" height="12.4" fill="#a79de2"/><rect x="-16.3" y="-5.4" width="32.7" height="10.8" fill="#4a4086"/><rect x="-14.8" y="-3.2" width="28.7" height="7.6" fill="#5b519a"/></g>
<g transform="translate(164.4,1072.6) rotate(-65.0)"><rect x="-17.4" y="-5.4" width="34.8" height="12.5" fill="#a79de2"/><rect x="-16.4" y="-5.4" width="32.8" height="10.9" fill="#4a4086"/><rect x="-14.9" y="-3.2" width="28.8" height="7.7" fill="#5b519a"/></g>
<g transform="translate(202.3,1013.2) rotate(-50.0)"><rect x="-17.5" y="-5.5" width="35.0" height="12.6" fill="#a79de2"/><rect x="-16.5" y="-5.5" width="33.0" height="11.0" fill="#4a4086"/><rect x="-15.0" y="-3.3" width="29.0" height="7.8" fill="#5b519a"/></g>
<g transform="translate(254.2,965.6) rotate(-35.0)"><rect x="-17.6" y="-5.6" width="35.2" height="12.7" fill="#a79de2"/><rect x="-16.6" y="-5.6" width="33.2" height="11.1" fill="#4a4086"/><rect x="-15.1" y="-3.4" width="29.2" height="7.9" fill="#5b519a"/></g>
<g transform="translate(316.6,933.2) rotate(-20.0)"><rect x="-17.8" y="-5.6" width="35.5" height="12.9" fill="#a79de2"/><rect x="-16.8" y="-5.6" width="33.5" height="11.3" fill="#4a4086"/><rect x="-15.3" y="-3.4" width="29.5" height="8.1" fill="#5b519a"/></g>
<circle cx="413" cy="1181.5" r="252.2" fill="#a59ce0" />
<circle cx="413" cy="1181.5" r="251" fill="url(#lg15)" />
<circle cx="411.9" cy="1183" r="244.5" fill="none" stroke="#9a90d4" stroke-width="1.3" opacity="0.7"/>
<circle cx="411.9" cy="1183" r="239.7" fill="url(#lg16)" />
<circle cx="411.9" cy="1183" r="237.5" fill="url(#lg17)" />
<g clip-path="url(#cp18)"><ellipse cx="410" cy="950" rx="165" ry="32" fill="#4b5358" filter="url(#b12)" opacity="0.95"/><ellipse cx="410" cy="960" rx="70" ry="24" fill="#4f575c" filter="url(#b6)" opacity="0.6"/></g>
<g transform="rotate(-8 212 1221)"><path d="M196,1198.5 H250 a22.5,22.5 0 0 1 0,45 H196Z" fill="url(#lg19)"/></g>
<circle cx="409" cy="1184" r="197" fill="url(#rg20)" />
<g clip-path="url(#cp21)">
<ellipse cx="545" cy="1285" rx="55" ry="105" fill="#a49bd9" filter="url(#b20)" transform="rotate(14 545 1285)"/>
<ellipse cx="300" cy="1265" rx="30" ry="55" fill="#8d83c4" filter="url(#b12)" transform="rotate(-20 300 1265)"/>
<path d="M312,1205 C300,1240 335,1290 330,1330 C345,1365 400,1382 430,1378 C432,1340 425,1300 440,1265 C455,1235 465,1215 450,1200 C420,1212 350,1215 312,1205Z" fill="#6d649f" filter="url(#b3)"/>
<path d="M270,1000 A197,197 0 0 1 560,1010 L540,1040 A165,165 0 0 0 290,1030Z" fill="#7268aa" filter="url(#b6)" opacity="0.7"/>
</g>
<circle cx="409" cy="1185" r="190" fill="none" stroke="#a399dd" stroke-width="1.2" opacity="0.5"/>
<g transform="rotate(-8 212 1221)"><path d="M203,1198.5 H250 a22.5,22.5 0 0 1 0,45 H212Z" fill="url(#lg22)"/></g>
<circle cx="396" cy="1103.5" r="99.5" fill="url(#rg23)" />
<circle cx="397.5" cy="1097" r="67" fill="url(#lg24)" />
<circle cx="397.5" cy="1097" r="67" fill="none" stroke="#584e95" stroke-width="1.6" opacity="0.8"/>
<circle cx="396.7" cy="1103.7" r="54" fill="url(#rg25)" />
<circle cx="398.8" cy="1105.4" r="40.4" fill="#2a2162" stroke="#675da5" stroke-width="5.5"/>
<circle cx="398.8" cy="1106.4" r="35.4" fill="#231a5a" />
<path d="M114.4,1398.0 L113.5,1392.6 L112.8,1387.2 L112.2,1382.0 L111.7,1376.9 L111.5,1372.0 L111.4,1367.1 L111.4,1362.3 L111.6,1357.7 L111.9,1353.1 L112.4,1348.7 L113.0,1344.3 L113.8,1340.1 L114.7,1335.9 L115.8,1331.8 L117.0,1327.9 L118.3,1324.0 L119.8,1320.2 L121.4,1316.5 L123.1,1312.9 L125.0,1309.3 L127.0,1305.8 L129.1,1302.4 L131.4,1299.1 L133.8,1295.8 L136.3,1292.6 L139.0,1289.4 L141.8,1286.3 L144.7,1283.2 L147.8,1280.2 L151.0,1277.2 L154.3,1274.3 L157.7,1271.4 L161.3,1268.5 L165.0,1265.7 L168.9,1262.9 L172.9,1260.1 L177.0,1257.4 L181.2,1254.6 L185.6,1251.9 L190.1,1249.2 L199.6,1264.0 L210.6,1228.2 L173.4,1223.2 L182.9,1238.0 L178.4,1241.1 L174.1,1244.3 L169.9,1247.5 L165.8,1250.6 L161.9,1253.9 L158.1,1257.1 L154.4,1260.4 L150.9,1263.7 L147.5,1267.0 L144.2,1270.4 L141.1,1273.8 L138.2,1277.3 L135.3,1280.8 L132.6,1284.4 L130.1,1287.9 L127.7,1291.6 L125.5,1295.3 L123.4,1299.0 L121.4,1302.8 L119.6,1306.6 L117.9,1310.5 L116.4,1314.5 L115.1,1318.5 L113.9,1322.6 L112.8,1326.7 L111.9,1330.9 L111.1,1335.2 L110.5,1339.5 L110.0,1343.9 L109.7,1348.4 L109.5,1353.0 L109.5,1357.6 L109.6,1362.3 L109.9,1367.1 L110.3,1372.0 L110.8,1377.0 L111.5,1382.1 L112.3,1387.3 L113.3,1392.6 L114.4,1398.0Z" fill="#d80304"/>
<text x="133.5" y="1448.8" text-anchor="middle" font-family="'Noto Sans CJK SC','Liberation Sans',sans-serif" font-weight="900" font-size="20" letter-spacing="0.75" fill="#000">TO PREVENT</text>
<text x="133.5" y="1483.8" text-anchor="middle" font-family="'Noto Sans CJK SC','Liberation Sans',sans-serif" font-weight="900" font-size="20" letter-spacing="0.75" fill="#000">LEAKAGE</text>
<circle cx="733" cy="855" r="34" fill="#dcdcdc"/><text transform="translate(735,870.2) scale(1.1,1)" text-anchor="middle" font-family="'Liberation Sans',sans-serif" font-weight="700" font-size="42" stroke="#000" stroke-width="2" fill="#000">4</text>
</g>
<g id="p3">
<circle cx="1196.2" cy="1193" r="275.4" fill="url(#rg26)" />
<circle cx="1196.2" cy="1193" r="275.4" fill="url(#lg27)" />
<g transform="translate(1212.0,930.6) rotate(3.8)"><rect x="-17.2" y="-5.2" width="34.4" height="12.1" fill="#a9a0e4"/><rect x="-16.2" y="-5.2" width="32.4" height="10.5" fill="#4b4187"/><rect x="-14.7" y="-3.0" width="28.4" height="7.3" fill="#5c529b"/></g>
<g transform="translate(1278.5,943.9) rotate(18.9)"><rect x="-17.0" y="-5.1" width="34.1" height="11.9" fill="#a9a0e4"/><rect x="-16.0" y="-5.1" width="32.1" height="10.3" fill="#4b4187"/><rect x="-14.5" y="-2.9" width="28.1" height="7.1" fill="#5c529b"/></g>
<g transform="translate(1339.4,974.2) rotate(34.0)"><rect x="-16.9" y="-5.1" width="33.8" height="11.7" fill="#a9a0e4"/><rect x="-15.9" y="-5.1" width="31.8" height="10.1" fill="#4b4187"/><rect x="-14.4" y="-2.9" width="27.8" height="6.9" fill="#5c529b"/></g>
<g transform="translate(1390.5,1019.4) rotate(49.0)"><rect x="-16.8" y="-5.0" width="33.5" height="11.6" fill="#a9a0e4"/><rect x="-15.8" y="-5.0" width="31.5" height="10.0" fill="#4b4187"/><rect x="-14.3" y="-2.8" width="27.5" height="6.8" fill="#5c529b"/></g>
<g transform="translate(1428.2,1076.4) rotate(64.0)"><rect x="-16.7" y="-5.0" width="33.3" height="11.5" fill="#a9a0e4"/><rect x="-15.7" y="-5.0" width="31.3" height="9.9" fill="#4b4187"/><rect x="-14.2" y="-2.8" width="27.3" height="6.7" fill="#5c529b"/></g>
<g transform="translate(1450.0,1141.3) rotate(78.9)"><rect x="-16.6" y="-4.9" width="33.2" height="11.5" fill="#a9a0e4"/><rect x="-15.6" y="-4.9" width="31.2" height="9.9" fill="#4b4187"/><rect x="-14.1" y="-2.7" width="27.2" height="6.7" fill="#5c529b"/></g>
<g transform="translate(1454.4,1209.6) rotate(93.7)"><rect x="-16.6" y="-4.9" width="33.2" height="11.5" fill="#a9a0e4"/><rect x="-15.6" y="-4.9" width="31.2" height="9.9" fill="#4b4187"/><rect x="-14.1" y="-2.7" width="27.2" height="6.7" fill="#5c529b"/></g>
<g transform="translate(1441.2,1276.8) rotate(108.6)"><rect x="-16.6" y="-5.0" width="33.3" height="11.5" fill="#a9a0e4"/><rect x="-15.6" y="-5.0" width="31.3" height="9.9" fill="#4b4187"/><rect x="-14.1" y="-2.8" width="27.3" height="6.7" fill="#5c529b"/></g>
<g transform="translate(1411.1,1338.2) rotate(123.5)"><rect x="-16.7" y="-5.0" width="33.4" height="11.6" fill="#a9a0e4"/><rect x="-15.7" y="-5.0" width="31.4" height="10.0" fill="#4b4187"/><rect x="-14.2" y="-2.8" width="27.4" height="6.8" fill="#5c529b"/></g>
<g transform="translate(1366.4,1389.7) rotate(138.5)"><rect x="-16.8" y="-5.0" width="33.6" height="11.7" fill="#a9a0e4"/><rect x="-15.8" y="-5.0" width="31.6" height="10.1" fill="#4b4187"/><rect x="-14.3" y="-2.8" width="27.6" height="6.9" fill="#5c529b"/></g>
<g transform="translate(1309.9,1427.8) rotate(153.6)"><rect x="-17.0" y="-5.1" width="33.9" height="11.8" fill="#a9a0e4"/><rect x="-16.0" y="-5.1" width="31.9" height="10.2" fill="#4b4187"/><rect x="-14.5" y="-2.9" width="27.9" height="7.0" fill="#5c529b"/></g>
<g transform="translate(1245.6,1449.8) rotate(168.7)"><rect x="-17.1" y="-5.2" width="34.2" height="12.0" fill="#a9a0e4"/><rect x="-16.1" y="-5.2" width="32.2" height="10.4" fill="#4b4187"/><rect x="-14.6" y="-3.0" width="28.2" height="7.2" fill="#5c529b"/></g>
<g transform="translate(1177.8,1454.2) rotate(-176.2)"><rect x="-17.2" y="-5.2" width="34.4" height="12.1" fill="#a9a0e4"/><rect x="-16.2" y="-5.2" width="32.4" height="10.5" fill="#4b4187"/><rect x="-14.7" y="-3.0" width="28.4" height="7.3" fill="#5c529b"/></g>
<g transform="translate(1111.3,1440.9) rotate(-161.1)"><rect x="-17.0" y="-5.1" width="34.1" height="11.9" fill="#a9a0e4"/><rect x="-16.0" y="-5.1" width="32.1" height="10.3" fill="#4b4187"/><rect x="-14.5" y="-2.9" width="28.1" height="7.1" fill="#5c529b"/></g>
<g transform="translate(1050.4,1410.6) rotate(-146.0)"><rect x="-16.9" y="-5.1" width="33.8" height="11.7" fill="#a9a0e4"/><rect x="-15.9" y="-5.1" width="31.8" height="10.1" fill="#4b4187"/><rect x="-14.4" y="-2.9" width="27.8" height="6.9" fill="#5c529b"/></g>
<g transform="translate(999.3,1365.4) rotate(-131.0)"><rect x="-16.8" y="-5.0" width="33.5" height="11.6" fill="#a9a0e4"/><rect x="-15.8" y="-5.0" width="31.5" height="10.0" fill="#4b4187"/><rect x="-14.3" y="-2.8" width="27.5" height="6.8" fill="#5c529b"/></g>
<g transform="translate(961.6,1308.4) rotate(-116.0)"><rect x="-16.7" y="-5.0" width="33.3" height="11.5" fill="#a9a0e4"/><rect x="-15.7" y="-5.0" width="31.3" height="9.9" fill="#4b4187"/><rect x="-14.2" y="-2.8" width="27.3" height="6.7" fill="#5c529b"/></g>
<g transform="translate(939.8,1243.5) rotate(-101.1)"><rect x="-16.6" y="-4.9" width="33.2" height="11.5" fill="#a9a0e4"/><rect x="-15.6" y="-4.9" width="31.2" height="9.9" fill="#4b4187"/><rect x="-14.1" y="-2.7" width="27.2" height="6.7" fill="#5c529b"/></g>
<g transform="translate(935.4,1175.2) rotate(-86.3)"><rect x="-16.6" y="-4.9" width="33.2" height="11.5" fill="#a9a0e4"/><rect x="-15.6" y="-4.9" width="31.2" height="9.9" fill="#4b4187"/><rect x="-14.1" y="-2.7" width="27.2" height="6.7" fill="#5c529b"/></g>
<g transform="translate(948.6,1108.0) rotate(-71.4)"><rect x="-16.6" y="-5.0" width="33.3" height="11.5" fill="#a9a0e4"/><rect x="-15.6" y="-5.0" width="31.3" height="9.9" fill="#4b4187"/><rect x="-14.1" y="-2.8" width="27.3" height="6.7" fill="#5c529b"/></g>
<g transform="translate(978.7,1046.6) rotate(-56.5)"><rect x="-16.7" y="-5.0" width="33.4" height="11.6" fill="#a9a0e4"/><rect x="-15.7" y="-5.0" width="31.4" height="10.0" fill="#4b4187"/><rect x="-14.2" y="-2.8" width="27.4" height="6.8" fill="#5c529b"/></g>
<g transform="translate(1023.4,995.1) rotate(-41.5)"><rect x="-16.8" y="-5.0" width="33.6" height="11.7" fill="#a9a0e4"/><rect x="-15.8" y="-5.0" width="31.6" height="10.1" fill="#4b4187"/><rect x="-14.3" y="-2.8" width="27.6" height="6.9" fill="#5c529b"/></g>
<g transform="translate(1079.9,957.0) rotate(-26.4)"><rect x="-17.0" y="-5.1" width="33.9" height="11.8" fill="#a9a0e4"/><rect x="-16.0" y="-5.1" width="31.9" height="10.2" fill="#4b4187"/><rect x="-14.5" y="-2.9" width="27.9" height="7.0" fill="#5c529b"/></g>
<g transform="translate(1144.2,935.0) rotate(-11.3)"><rect x="-17.1" y="-5.2" width="34.2" height="12.0" fill="#a9a0e4"/><rect x="-16.1" y="-5.2" width="32.2" height="10.4" fill="#4b4187"/><rect x="-14.6" y="-3.0" width="28.2" height="7.2" fill="#5c529b"/></g>
<circle cx="1194.9" cy="1192.25" r="249.7" fill="#a8a0e3" />
<circle cx="1194.9" cy="1192.25" r="248.5" fill="url(#lg28)" />
<circle cx="1192.75" cy="1195" r="235" fill="none" stroke="#a097da" stroke-width="1.5" opacity="0.8"/>
<circle cx="1192.75" cy="1195" r="231.5" fill="url(#rg29)" />
<g clip-path="url(#cp30)">
<rect x="950" y="1380" width="480" height="60" fill="url(#lg31)"/>
<rect x="1153.0" y="1404" width="20.5" height="21.7" fill="#2a2065"/>
<rect x="1177.6" y="1404" width="20.5" height="21.7" fill="#2a2065"/>
<rect x="1202.2" y="1404" width="20.5" height="21.7" fill="#2a2065"/>
<rect x="1226.8" y="1404" width="20.5" height="21.7" fill="#2a2065"/>
<rect x="1251.4" y="1404" width="20.5" height="21.7" fill="#2a2065"/>
</g>
<path d="M1398.2,1190.8 L1398.4,1203.1 L1397.9,1215.3 L1396.6,1227.4 L1394.7,1239.5 L1392.0,1251.3 L1388.6,1262.9 L1384.6,1274.3 L1379.8,1285.3 L1374.5,1295.9 L1368.5,1306.2 L1361.9,1315.9 L1354.8,1325.2 L1347.1,1333.9 L1338.9,1342.1 L1330.3,1349.6 L1321.2,1356.5 L1311.7,1362.7 L1301.9,1368.2 L1291.7,1373.0 L1281.3,1377.0 L1270.7,1380.2 L1259.9,1382.7 L1249.0,1384.4 L1238.0,1385.3 L1226.9,1385.4 L1215.9,1384.7 L1204.9,1383.2 L1194.1,1380.9 L1183.3,1377.8 L1172.8,1374.0 L1162.5,1369.4 L1152.6,1364.1 L1142.9,1358.0 L1133.6,1351.3 L1124.7,1343.9 L1116.3,1335.9 L1108.3,1327.3 L1100.9,1318.2 L1094.1,1308.5 L1087.8,1298.4 L1082.1,1287.9 L1077.0,1276.9 L1072.6,1265.6 L1068.9,1254.1 L1065.8,1242.3 L1063.5,1230.3 L1061.9,1218.2 L1061.0,1206.0 L1060.8,1193.7 L1061.3,1181.5 L1062.6,1169.4 L1064.5,1157.3 L1067.2,1145.5 L1070.6,1133.9 L1074.6,1122.5 L1079.4,1111.5 L1084.7,1100.9 L1090.7,1090.6 L1097.3,1080.9 L1104.4,1071.6 L1112.1,1062.9 L1120.3,1054.7 L1128.9,1047.2 L1138.0,1040.3 L1147.5,1034.1 L1157.3,1028.6 L1167.5,1023.8 L1177.9,1019.8 L1188.5,1016.6 L1199.3,1014.1 L1210.2,1012.4 L1221.2,1011.5 L1232.3,1011.4 L1243.3,1012.1 L1254.3,1013.6 L1265.1,1015.9 L1275.9,1019.0 L1286.4,1022.8 L1296.7,1027.4 L1306.6,1032.7 L1316.3,1038.8 L1325.6,1045.5 L1334.5,1052.9 L1342.9,1060.9 L1350.9,1069.5 L1358.3,1078.6 L1365.1,1088.3 L1371.4,1098.4 L1377.1,1108.9 L1382.2,1119.9 L1386.6,1131.2 L1390.3,1142.7 L1393.4,1154.5 L1395.7,1166.5 L1397.3,1178.6Z" fill="#9288cb"/>
<circle cx="1197.75" cy="1195" r="194.5" fill="url(#rg32)" />
<g clip-path="url(#cp33)">
<ellipse cx="1320" cy="1300" rx="55" ry="85" fill="#aaa2e6" filter="url(#b20)" transform="rotate(30 1320 1300)"/>
<ellipse cx="1110" cy="1260" rx="28" ry="60" fill="#9a91d6" filter="url(#b12)" transform="rotate(-15 1110 1260)"/>
<path d="M1150,1232 C1138,1260 1175,1290 1172,1325 C1170,1352 1180,1372 1205,1380 C1235,1370 1250,1345 1246,1315 C1242,1285 1280,1255 1272,1222 C1240,1238 1185,1240 1150,1232Z" fill="#7c73b5" filter="url(#b3)"/>
<path d="M1050,1060 A190,190 0 0 1 1340,1055 L1320,1085 A160,160 0 0 0 1075,1090Z" fill="#7d73b7" filter="url(#b6)" opacity="0.7"/>
</g>
<circle cx="1190.4" cy="1121.8" r="96" fill="url(#rg34)" />
<circle cx="1190.4" cy="1122.7" r="67.5" fill="url(#lg35)" />
<circle cx="1190.4" cy="1122.7" r="67.5" fill="none" stroke="#5d5399" stroke-width="1.6" opacity="0.8"/>
<circle cx="1187.2" cy="1134" r="52.5" fill="url(#rg36)" />
<circle cx="1188.4" cy="1134.5" r="40" fill="#2c2364" stroke="#6a60a8" stroke-width="5.5"/>
<circle cx="1188.4" cy="1135.5" r="35" fill="#251c5c" />
<path fill-rule="evenodd" fill="url(#lg37)" d="M1430.7,1158.4 L1433.2,1172.8 L1434.8,1187.3 L1435.5,1201.9 L1435.3,1216.5 L1434.2,1231.0 L1432.3,1245.4 L1429.4,1259.5 L1425.7,1273.4 L1421.2,1287.1 L1415.8,1300.3 L1409.6,1313.1 L1402.6,1325.4 L1394.8,1337.2 L1386.4,1348.4 L1377.2,1359.0 L1367.4,1368.8 L1357.0,1378.0 L1346.1,1386.4 L1334.6,1394.0 L1322.7,1400.8 L1310.4,1406.7 L1297.7,1411.7 L1284.7,1415.9 L1271.4,1419.1 L1258.0,1421.3 L1244.4,1422.6 L1230.7,1423.0 L1217.1,1422.4 L1203.4,1420.9 L1189.9,1418.4 L1176.5,1415.0 L1163.4,1410.6 L1150.5,1405.4 L1137.9,1399.3 L1125.7,1392.3 L1114.0,1384.5 L1102.7,1375.9 L1092.0,1366.6 L1081.8,1356.5 L1072.3,1345.8 L1063.4,1334.5 L1055.2,1322.6 L1047.8,1310.1 L1041.1,1297.2 L1035.2,1283.9 L1030.1,1270.2 L1025.9,1256.2 L1022.5,1242.0 L1020.0,1227.6 L1018.4,1213.1 L1017.7,1198.5 L1017.9,1183.9 L1019.0,1169.4 L1020.9,1155.0 L1023.8,1140.9 L1027.5,1127.0 L1032.0,1113.3 L1037.4,1100.1 L1043.6,1087.3 L1050.6,1075.0 L1058.4,1063.2 L1066.8,1052.0 L1076.0,1041.4 L1085.8,1031.6 L1096.2,1022.4 L1107.1,1014.0 L1118.6,1006.4 L1130.5,999.6 L1142.8,993.7 L1155.5,988.7 L1168.5,984.5 L1181.8,981.3 L1195.2,979.1 L1208.8,977.8 L1222.5,977.4 L1236.1,978.0 L1249.8,979.5 L1263.3,982.0 L1276.7,985.4 L1289.8,989.8 L1302.7,995.0 L1315.3,1001.1 L1327.5,1008.1 L1339.2,1015.9 L1350.5,1024.5 L1361.2,1033.8 L1371.4,1043.9 L1380.9,1054.6 L1389.8,1065.9 L1398.0,1077.8 L1405.4,1090.3 L1412.1,1103.2 L1418.0,1116.5 L1423.1,1130.2 L1427.3,1144.2Z M1398.2,1190.8 L1398.4,1203.1 L1397.9,1215.3 L1396.6,1227.4 L1394.7,1239.5 L1392.0,1251.3 L1388.6,1262.9 L1384.6,1274.3 L1379.8,1285.3 L1374.5,1295.9 L1368.5,1306.2 L1361.9,1315.9 L1354.8,1325.2 L1347.1,1333.9 L1338.9,1342.1 L1330.3,1349.6 L1321.2,1356.5 L1311.7,1362.7 L1301.9,1368.2 L1291.7,1373.0 L1281.3,1377.0 L1270.7,1380.2 L1259.9,1382.7 L1249.0,1384.4 L1238.0,1385.3 L1226.9,1385.4 L1215.9,1384.7 L1204.9,1383.2 L1194.1,1380.9 L1183.3,1377.8 L1172.8,1374.0 L1162.5,1369.4 L1152.6,1364.1 L1142.9,1358.0 L1133.6,1351.3 L1124.7,1343.9 L1116.3,1335.9 L1108.3,1327.3 L1100.9,1318.2 L1094.1,1308.5 L1087.8,1298.4 L1082.1,1287.9 L1077.0,1276.9 L1072.6,1265.6 L1068.9,1254.1 L1065.8,1242.3 L1063.5,1230.3 L1061.9,1218.2 L1061.0,1206.0 L1060.8,1193.7 L1061.3,1181.5 L1062.6,1169.4 L1064.5,1157.3 L1067.2,1145.5 L1070.6,1133.9 L1074.6,1122.5 L1079.4,1111.5 L1084.7,1100.9 L1090.7,1090.6 L1097.3,1080.9 L1104.4,1071.6 L1112.1,1062.9 L1120.3,1054.7 L1128.9,1047.2 L1138.0,1040.3 L1147.5,1034.1 L1157.3,1028.6 L1167.5,1023.8 L1177.9,1019.8 L1188.5,1016.6 L1199.3,1014.1 L1210.2,1012.4 L1221.2,1011.5 L1232.3,1011.4 L1243.3,1012.1 L1254.3,1013.6 L1265.1,1015.9 L1275.9,1019.0 L1286.4,1022.8 L1296.7,1027.4 L1306.6,1032.7 L1316.3,1038.8 L1325.6,1045.5 L1334.5,1052.9 L1342.9,1060.9 L1350.9,1069.5 L1358.3,1078.6 L1365.1,1088.3 L1371.4,1098.4 L1377.1,1108.9 L1382.2,1119.9 L1386.6,1131.2 L1390.3,1142.7 L1393.4,1154.5 L1395.7,1166.5 L1397.3,1178.6Z"/>
<g clip-path="url(#cp38)"><rect x="1000" y="970" width="450" height="140" fill="url(#lg39)"/>
<ellipse cx="1400" cy="1300" rx="45" ry="120" fill="#86959a" filter="url(#b12)" opacity="0.75" transform="rotate(25 1400 1300)"/>
</g>
<path d="M1398,1156 H1363 a25,24.85 0 0 0 0,49.7 H1398Z" fill="url(#lg40)"/>
<path d="M1480.0,1381.3 L1481.1,1375.3 L1482.1,1369.4 L1482.9,1363.6 L1483.6,1358.0 L1484.0,1352.4 L1484.4,1347.0 L1484.5,1341.7 L1484.5,1336.4 L1484.3,1331.3 L1484.0,1326.3 L1483.5,1321.3 L1482.8,1316.5 L1482.0,1311.7 L1481.0,1307.0 L1479.9,1302.5 L1478.6,1297.9 L1477.1,1293.5 L1475.5,1289.1 L1473.8,1284.9 L1471.9,1280.7 L1469.8,1276.5 L1467.6,1272.4 L1465.3,1268.4 L1462.8,1264.5 L1460.2,1260.6 L1457.4,1256.8 L1454.5,1253.1 L1451.4,1249.4 L1448.3,1245.8 L1445.0,1242.2 L1441.5,1238.7 L1438.0,1235.2 L1434.3,1231.8 L1430.5,1228.4 L1426.6,1225.1 L1422.6,1221.8 L1418.4,1218.5 L1414.2,1215.3 L1409.8,1212.1 L1405.3,1209.0 L1415.7,1192.7 L1377.6,1199.2 L1387.7,1236.5 L1398.1,1220.2 L1402.6,1223.0 L1407.0,1225.7 L1411.3,1228.5 L1415.5,1231.3 L1419.6,1234.1 L1423.5,1237.0 L1427.4,1240.0 L1431.1,1243.0 L1434.7,1246.0 L1438.2,1249.1 L1441.6,1252.2 L1444.9,1255.4 L1448.0,1258.7 L1451.1,1262.0 L1454.0,1265.4 L1456.7,1268.8 L1459.4,1272.4 L1461.9,1276.0 L1464.3,1279.7 L1466.5,1283.4 L1468.6,1287.3 L1470.6,1291.3 L1472.5,1295.3 L1474.2,1299.5 L1475.7,1303.7 L1477.1,1308.1 L1478.4,1312.5 L1479.5,1317.1 L1480.5,1321.8 L1481.3,1326.6 L1481.9,1331.5 L1482.4,1336.5 L1482.7,1341.7 L1482.8,1347.0 L1482.8,1352.4 L1482.6,1357.9 L1482.2,1363.5 L1481.7,1369.3 L1480.9,1375.3 L1480.0,1381.3Z" fill="#d80304"/>
<text x="1443.4" y="1454.3" text-anchor="middle" font-family="'Noto Sans CJK SC','Liberation Sans',sans-serif" font-weight="900" font-size="20" letter-spacing="0.75" fill="#000">INSERT INTO</text>
<text x="1443.4" y="1488.9" text-anchor="middle" font-family="'Noto Sans CJK SC','Liberation Sans',sans-serif" font-weight="900" font-size="20" letter-spacing="0.75" fill="#000">THE RECESS OF THE LID</text>
<circle cx="1501" cy="867" r="34" fill="#dcdcdc"/><text transform="translate(1503,882.2) scale(1.08,1)" text-anchor="middle" font-family="'Liberation Sans',sans-serif" font-weight="700" font-size="42" stroke="#000" stroke-width="2" fill="#000">3</text>
</g>
</svg>
</body></html>
